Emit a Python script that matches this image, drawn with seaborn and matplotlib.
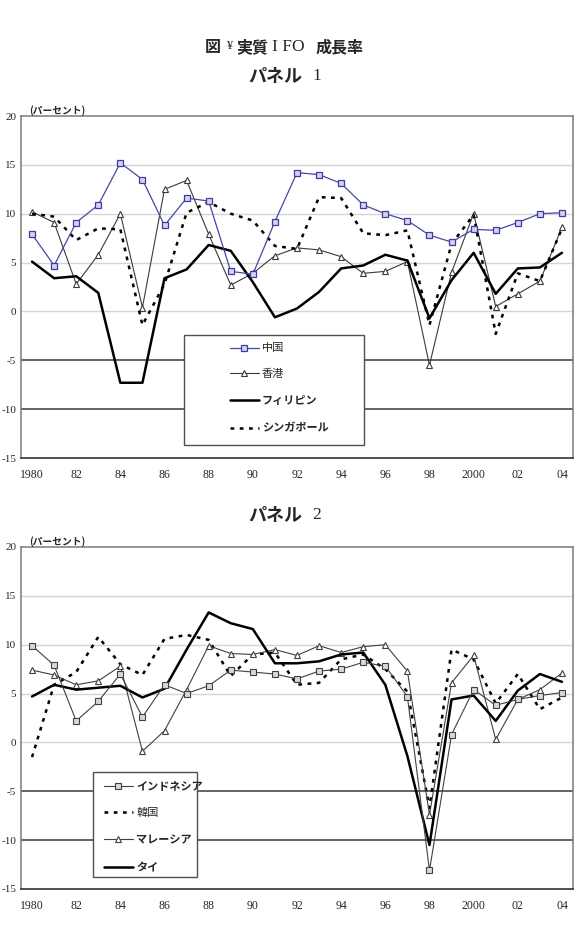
import matplotlib
matplotlib.use('Agg')
import matplotlib.pyplot as plt
from matplotlib.patches import Rectangle
import seaborn as sns

years = list(range(1980, 2005))
year_labels = ['1980', '82', '84', '86', '88', '90', '92', '94', '96', '98', '2000', '02', '04']

# panel 1
china = [7.9, 4.7, 9.1, 10.9, 15.2, 13.5, 8.8, 11.6, 11.3, 4.1, 3.8, 9.2, 14.2,
         14.0, 13.1, 10.9, 10.0, 9.3, 7.8, 7.1, 8.4, 8.3, 9.1, 10.0, 10.1]
hongkong = [10.2, 9.1, 2.8, 5.8, 10.0, 0.4, 12.5, 13.4, 7.9, 2.7, 3.9, 5.7, 6.5,
            6.3, 5.6, 3.9, 4.1, 5.1, -5.5, 4.0, 10.0, 0.5, 1.8, 3.1, 8.6]
philippines = [5.1, 3.4, 3.6, 1.9, -7.3, -7.3, 3.4, 4.3, 6.8, 6.2, 3.0, -0.6, 0.3,
               2.0, 4.4, 4.7, 5.8, 5.2, -0.7, 3.2, 6.0, 1.8, 4.4, 4.5, 6.0]
singapore = [10.0, 9.7, 7.3, 8.5, 8.4, -1.4, 2.8, 10.1, 11.2, 10.0, 9.3, 6.7, 6.4,
             11.7, 11.6, 8.0, 7.8, 8.3, -1.4, 6.9, 9.9, -2.3, 3.9, 3.1, 8.5]

# panel 2
indonesia = [9.9, 7.9, 2.2, 4.2, 7.0, 2.6, 5.9, 5.0, 5.8, 7.4, 7.2, 7.0, 6.5,
             7.3, 7.5, 8.2, 7.8, 4.7, -13.1, 0.8, 5.4, 3.8, 4.4, 4.8, 5.1]
korea = [-1.5, 5.9, 7.2, 10.8, 8.0, 6.9, 10.6, 11.0, 10.5, 6.8, 9.0, 9.2, 5.9,
         6.1, 8.5, 9.0, 7.5, 5.2, -6.7, 9.5, 8.5, 4.0, 7.0, 3.4, 4.6]
malaysia = [7.4, 6.9, 5.9, 6.3, 7.8, -0.9, 1.2, 5.4, 9.9, 9.1, 9.0, 9.5, 8.9,
            9.9, 9.2, 9.8, 10.0, 7.3, -7.4, 6.1, 8.9, 0.3, 4.4, 5.4, 7.1]
thailand = [4.7, 5.9, 5.4, 5.6, 5.8, 4.6, 5.5, 9.5, 13.3, 12.2, 11.6, 8.1, 8.1,
            8.3, 9.0, 9.2, 5.9, -1.4, -10.5, 4.4, 4.8, 2.2, 5.3, 7.0, 6.2]

sns.set_style("white")
plt.rcParams['font.family'] = ['Noto Sans CJK JP', 'DejaVu Sans']

W, H = 577, 933
fig = plt.figure(figsize=(W / 100, H / 100), dpi=100)

def px(x, y):
    return x / W, 1 - y / H

dotted = (0, (1.5, 2.2))
serif = 'Liberation Serif'


def setup_axes(ax):
    ax.set_xlim(1979.5, 2004.5)
    ax.set_ylim(-15, 20)
    for v in [0, 5, 10, 15]:
        ax.axhline(v, color='#d4d4d4', lw=1.0, zorder=0)
    for v in [-5, -10]:
        ax.axhline(v, color='#3a3a3a', lw=1.1, zorder=0)
    for s in ['left', 'top', 'right']:
        ax.spines[s].set_color('#7a7a7a')
        ax.spines[s].set_linewidth(1.1)
    ax.spines['bottom'].set_color('#202020')
    ax.spines['bottom'].set_linewidth(1.1)
    ax.set_yticks(range(-15, 21, 5))
    ax.set_yticklabels([str(v) for v in range(-15, 21, 5)], fontfamily=serif, fontsize=8)
    ax.set_xticks(years[::2])
    ax.set_xticklabels(year_labels, fontfamily=serif, fontsize=8.5)
    ax.set_xticks([y + 0.5 for y in years[:-1]], minor=True)
    ax.tick_params(axis='x', which='major', length=0, pad=8)
    ax.tick_params(axis='x', which='minor', direction='in', length=3, width=0.8, color='#202020')
    ax.tick_params(axis='y', length=2, width=0.8, color='#7a7a7a', direction='out', pad=1.5)
    ax.set_xlabel('')
    ax.set_ylabel('')
    ax.text(0.015, 1.0, '(パーセント)', transform=ax.transAxes, fontsize=7,
            fontweight='bold', ha='left', va='bottom')


def add_legend(ax, box, anchor, labels_bold):
    x0, y0, x1, y1 = box
    ax.add_patch(Rectangle((x0, y0), x1 - x0, y1 - y0, transform=ax.transAxes,
                           facecolor='white', edgecolor='#505050', lw=1.0, zorder=5))
    leg = ax.legend(loc='upper left', bbox_to_anchor=anchor, frameon=False,
                    fontsize=8, handlelength=2.6, handletextpad=0.3,
                    labelspacing=1.35, borderpad=0, borderaxespad=0)
    leg.set_zorder(6)
    for t in leg.get_texts():
        if t.get_text() in labels_bold:
            t.set_fontweight('bold')
    return leg


# ---------- panel 1
ax1 = fig.add_axes([21 / W, 1 - 458 / H, 552 / W, 342 / H])
setup_axes(ax1)
sns.lineplot(x=years, y=china, ax=ax1, color='#4646a6', lw=0.9, marker='s',
             markersize=4.5, markerfacecolor='#d4d4f2', markeredgecolor='#3c3c9c',
             markeredgewidth=0.9, label='中国', zorder=4)
sns.lineplot(x=years, y=hongkong, ax=ax1, color='#3a3a3a', lw=0.8, marker='^',
             markersize=4.5, markerfacecolor='white', markeredgecolor='#3a3a3a',
             markeredgewidth=0.8, label='香港', zorder=3)
sns.lineplot(x=years, y=philippines, ax=ax1, color='black', lw=1.8, label='フィリピン', zorder=3)
sns.lineplot(x=years, y=singapore, ax=ax1, color='black', lw=1.8, linestyle=dotted,
             label='シンガポール', zorder=3)
add_legend(ax1, (0.295, 0.038, 0.621, 0.360), (0.378, 0.335),
           ['フィリピン', 'シンガポール'])

# ---------- panel 2
ax2 = fig.add_axes([21 / W, 1 - 889 / H, 552 / W, 342 / H])
setup_axes(ax2)
sns.lineplot(x=years, y=indonesia, ax=ax2, color='#404040', lw=0.8, marker='s',
             markersize=4.5, markerfacecolor='#d8d8d8', markeredgecolor='#404040',
             markeredgewidth=0.8, label='インドネシア', zorder=4)
sns.lineplot(x=years, y=korea, ax=ax2, color='black', lw=1.8, linestyle=dotted,
             label='韓国', zorder=3)
sns.lineplot(x=years, y=malaysia, ax=ax2, color='#404040', lw=0.8, marker='^',
             markersize=4.5, markerfacecolor='white', markeredgecolor='#404040',
             markeredgewidth=0.8, label='マレーシア', zorder=3)
sns.lineplot(x=years, y=thailand, ax=ax2, color='black', lw=1.8, label='タイ', zorder=3)
add_legend(ax2, (0.130, 0.035, 0.319, 0.342), (0.150, 0.318),
           ['インドネシア', 'マレーシア', 'タイ'])

# ---------- titles
fig.text(*px(205, 47), '図', fontsize=11.5, fontweight='bold', ha='left', va='center')
fig.text(*px(226, 46), '¥', fontsize=9, ha='left', va='center', fontfamily=serif)
fig.text(*px(236, 47), '実質', fontsize=11.5, fontweight='bold', ha='left', va='center')
fig.text(*px(272, 47), 'I FO', fontsize=12.5, ha='left', va='center', fontfamily=serif)
fig.text(*px(316, 47), '成長率', fontsize=11.5, fontweight='bold', ha='left', va='center')

for ytop, num in [(76, '1'), (515, '2')]:
    fig.text(*px(302, ytop), 'パネル', fontsize=13, fontweight='bold', ha='right', va='center')
    fig.text(*px(312, ytop), num, fontsize=12.5, ha='left', va='center', fontfamily=serif)

fig.savefig('out.png', dpi=100)
